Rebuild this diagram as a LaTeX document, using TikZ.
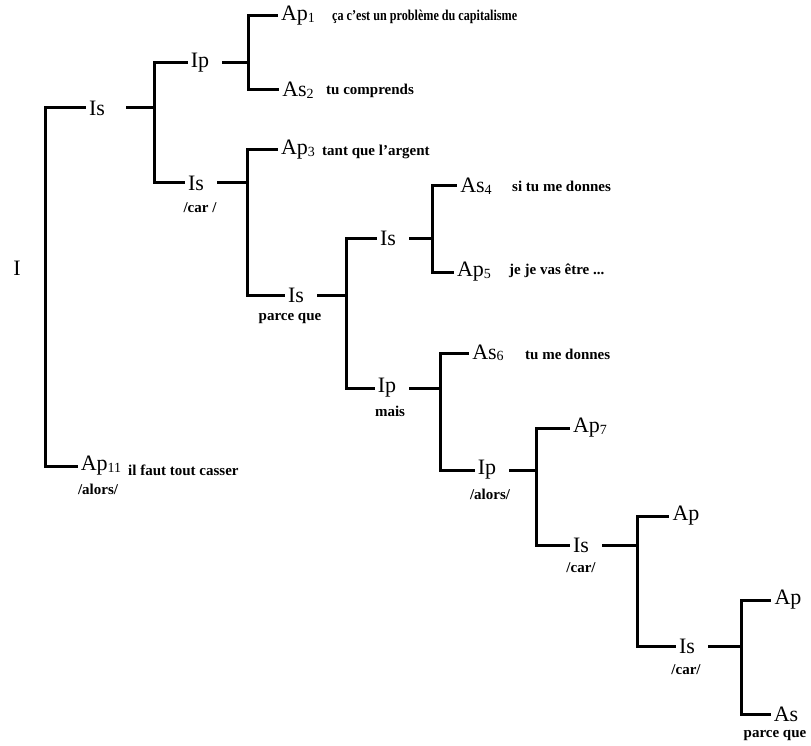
\documentclass[tikz,border=0pt]{standalone}
\usepackage{fontspec}
\setmainfont{Liberation Serif}
\usepackage{tikz}
\newcommand{\subnum}[1]{\raisebox{-1.5pt}{\fontsize{14}{14}\selectfont #1}}

\tikzset{
  cat/.style={inner sep=3pt, font=\fontsize{22}{22}\selectfont},
  note/.style={inner sep=0pt, anchor=west, font=\fontsize{15}{15}\selectfont\bfseries},
  conj/.style={inner sep=0pt, font=\fontsize{15}{15}\selectfont\bfseries},
  bar/.style={-, line width=3pt},
  stub/.style={-, line width=3pt, shorten <=10pt}
}

\begin{document}
\begin{tikzpicture}[x=1pt,y=-1pt]
        \useasboundingbox (0,0) rectangle (811,746);
        %categories
        \node[cat] (root) at (17,268)  {I};
        \node[cat] (is1)  at (97,108)  {Is};
        \node[cat] (ap11) at (101,466) {Ap\subnum{11}};
        \node[cat] (ip1)  at (200,63)  {Ip};
        \node[cat] (is2)  at (196,183) {Is};
        \node[cat] (ap1)  at (298,16)  {Ap\subnum{1}};
        \node[cat] (as2)  at (298,90)  {As\subnum{2}};
        \node[cat] (ap3)  at (298,150) {Ap\subnum{3}};
        \node[cat] (is3)  at (296,295) {Is};
        \node[cat] (is4)  at (388,238) {Is};
        \node[cat] (ip2)  at (387,388) {Ip};
        \node[cat] (as4)  at (476,186) {As\subnum{4}};
        \node[cat] (ap5)  at (474,272) {Ap\subnum{5}};
        \node[cat] (as6)  at (488,353) {As\subnum{6}};
        \node[cat] (ip3)  at (487,470) {Ip};
        \node[cat] (ap7)  at (590,428) {Ap\subnum{7}};
        \node[cat] (is5)  at (581,545) {Is};
        \node[cat] (ap8)  at (686,516) {Ap};
        \node[cat] (is6)  at (687,646) {Is};
        \node[cat] (ap9)  at (788,600) {Ap};
        \node[cat] (as9)  at (786,714) {As};
        %utterances
        \node[note, xscale=0.81] (t1) at (332,17) {ça c'est un problème du capitalisme};
        \node[note] (t2)  at (326,91)  {tu comprends};
        \node[note] (t3)  at (322,152) {tant que l'argent};
        \node[note] (t4)  at (512,186) {si tu me donnes};
        \node[note] (t5)  at (509,271) {je je vas être ...};
        \node[note] (t6)  at (525,354) {tu me donnes};
        \node[note] (t11) at (128,470) {il faut tout casser};
        %connectives
        \node[conj] (c1)  at (200,208) {/car /};
        \node[conj] (c2)  at (290,318) {parce que};
        \node[conj] (c3)  at (390,411) {mais};
        \node[conj] (c4)  at (98,489)  {/alors/};
        \node[conj] (c5)  at (490,494) {/alors/};
        \node[conj] (c6)  at (581,568) {/car/};
        \node[conj] (c7)  at (686,670) {/car/};
        \node[conj] (c8)  at (775,735) {parce que};
        %bracket joints
        \coordinate (j0) at (45,268);
        \coordinate (j1) at (154,108);
        \coordinate (j2) at (248,63);
        \coordinate (j3) at (247,183);
        \coordinate (j4) at (346,295);
        \coordinate (j5) at (432,238);
        \coordinate (j6) at (440,388);
        \coordinate (j7) at (536,470);
        \coordinate (j8) at (637,545);
        \coordinate (j9) at (741,646);
        %stubs from each category to its bracket
        \draw[stub, shorten <=18pt] (is1.east) -- (j1);
        \draw[stub] (ip1.east) -- (j2);
        \draw[stub] (is2.east) -- (j3);
        \draw[stub] (is3.east) -- (j4);
        \draw[stub] (is4.east) -- (j5);
        \draw[stub] (ip2.east) -- (j6);
        \draw[stub] (ip3.east) -- (j7);
        \draw[stub] (is5.east) -- (j8);
        \draw[stub] (is6.east) -- (j9);
        %brackets
        \draw[bar] (j0) |- (is1.west);  \draw[bar] (j0) |- (ap11.west);
        \draw[bar] (j1) |- (ip1.west);  \draw[bar] (j1) |- (is2.west);
        \draw[bar] (j2) |- (ap1.west);  \draw[bar] (j2) |- (as2.west);
        \draw[bar] (j3) |- (ap3.west);  \draw[bar] (j3) |- (is3.west);
        \draw[bar] (j4) |- (is4.west);  \draw[bar] (j4) |- (ip2.west);
        \draw[bar] (j5) |- (as4.west);  \draw[bar] (j5) |- (ap5.west);
        \draw[bar] (j6) |- (as6.west);  \draw[bar] (j6) |- (ip3.west);
        \draw[bar] (j7) |- (ap7.west);  \draw[bar] (j7) |- (is5.west);
        \draw[bar] (j8) |- (ap8.west);  \draw[bar] (j8) |- (is6.west);
        \draw[bar] (j9) |- (ap9.west);  \draw[bar] (j9) |- (as9.west);
\end{tikzpicture}
\end{document}
